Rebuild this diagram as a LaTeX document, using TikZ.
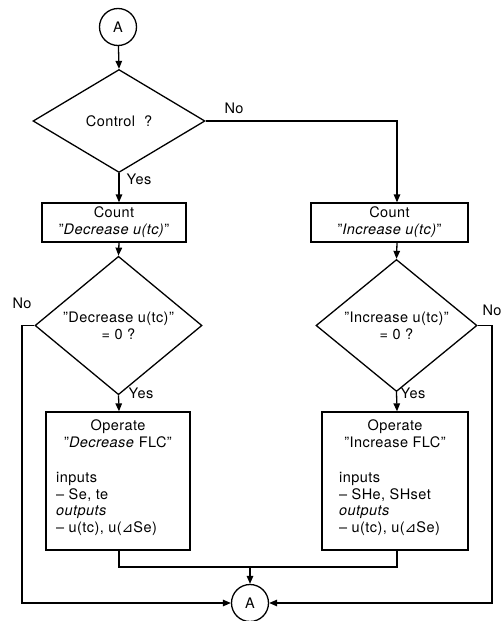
\documentclass[tikz,border=0pt]{standalone}
\usepackage{fontspec}
\setmainfont{TeX Gyre Heros}[LetterSpace=3]
\newfontfamily\symfont{DejaVu Sans}
\usetikzlibrary{shapes.geometric,arrows.meta}
\newcommand{\tri}{{\symfont\fontsize{14}{17}\selectfont ⊿}}
\begin{document}
\begin{tikzpicture}[x=1pt,y=1pt,
  every node/.style={font=\fontsize{14.5}{17}\selectfont},
  ln/.style={line width=1.3pt},
  arr/.style={ln,-{Triangle[length=8pt,width=6.5pt]}},
  conn/.style={circle,draw,line width=1.3pt,minimum size=37pt,inner sep=0pt},
  dec/.style={diamond,draw,line width=1.3pt,inner sep=0pt},
  cbox/.style={rectangle,draw,line width=1.3pt,align=center,inner sep=0pt},
  obox/.style={rectangle,draw,line width=1.3pt,inner sep=0pt},
  lbl/.style={inner sep=0pt},
  txt/.style={inner sep=0pt,anchor=base},
  ltxt/.style={inner sep=0pt,anchor=base west}]
\useasboundingbox (0,0) rectangle (503,-621);
\coordinate (lx) at (119,0);
\coordinate (rx) at (397,0);
% top connector
\node[conn] (A1) at (118,-27) {A};
% decision control
\node[dec,minimum width=172pt,minimum height=103pt] (d1) at (119,-121) {Control\ \ ?};
% count boxes
\node[cbox,minimum width=144pt,minimum height=39pt] (c1) at (114,-222.5) {Count\\"\textit{Decrease u(tc)}"};
\node[cbox,minimum width=157pt,minimum height=39pt] (c2) at (389.5,-222.5) {Count\\"\textit{Increase u(tc)}"};
% decisions 2
\node[dec,minimum width=167pt,minimum height=95pt,align=center] (d2l) at (118.5,-325.5) {"Decrease u(tc)"\\= 0 ?};
\node[dec,minimum width=161pt,minimum height=95pt,align=center] (d2r) at (396.5,-325.5) {"Increase u(tc)"\\= 0 ?};
% operate boxes
\node[obox,minimum width=144pt,minimum height=138pt] (o1) at (118,-481) {};
\node[obox,minimum width=146pt,minimum height=138pt] (o2) at (395,-481) {};
% operate texts left
\node[txt] (o1a) at (118,-430) {Operate};
\node[txt] (o1b) at (118,-447) {"\textit{Decrease} FLC"};
\node[ltxt] (o1c) at (56,-482) {inputs};
\node[ltxt] (o1d) at (56,-499) {– Se, te};
\node[ltxt] (o1e) at (56,-515) {\textit{outputs}};
\node[ltxt] (o1f) at (56,-532) {– u(tc), u(\tri Se)};
% operate texts right
\node[txt] (o2a) at (395,-430) {Operate};
\node[txt] (o2b) at (395,-447) {"Increase FLC"};
\node[ltxt] (o2c) at (339,-482) {inputs};
\node[ltxt] (o2d) at (339,-499) {– SHe, SHset};
\node[ltxt] (o2e) at (339,-515) {\textit{outputs}};
\node[ltxt] (o2f) at (339,-532) {– u(tc), u(\tri Se)};
% bottom connector
\node[conn] (A2) at (250,-603) {A};
% coordinates
\coordinate (nl) at (22,-325.5);
\coordinate (nr) at (492,-325.5);
\coordinate (mid) at (250,-567);
% connectors
\draw[arr] (A1) -- (d1.north);
\draw[arr] (d1.south) -- (lx |- c1.north);
\draw[arr] (d1.east) -| (rx |- c2.north);
\draw[arr] (lx |- c1.south) -- (d2l.north);
\draw[arr] (rx |- c2.south) -- (d2r.north);
\draw[arr] (d2l.south) -- (lx |- o1.north);
\draw[arr] (d2r.south) -- (rx |- o2.north);
\draw[ln] (lx |- o1.south) |- (mid) -| (rx |- o2.south);
\draw[arr] (mid) -- (A2.north);
\draw[arr] (d2l.west) -- (nl) |- (A2.west);
\draw[arr] (d2r.east) -- (nr) |- (A2.east);
% labels
\node[lbl] (nolab1) at (234,-108) {No};
\node[lbl] (yeslab1) at (139,-179) {Yes};
\node[lbl] (nolab2) at (22,-303) {No};
\node[lbl] (nolab3) at (492,-310) {No};
\node[lbl] (yeslab2) at (141,-393) {Yes};
\node[lbl] (yeslab3) at (413,-393) {Yes};
\end{tikzpicture}
\end{document}
